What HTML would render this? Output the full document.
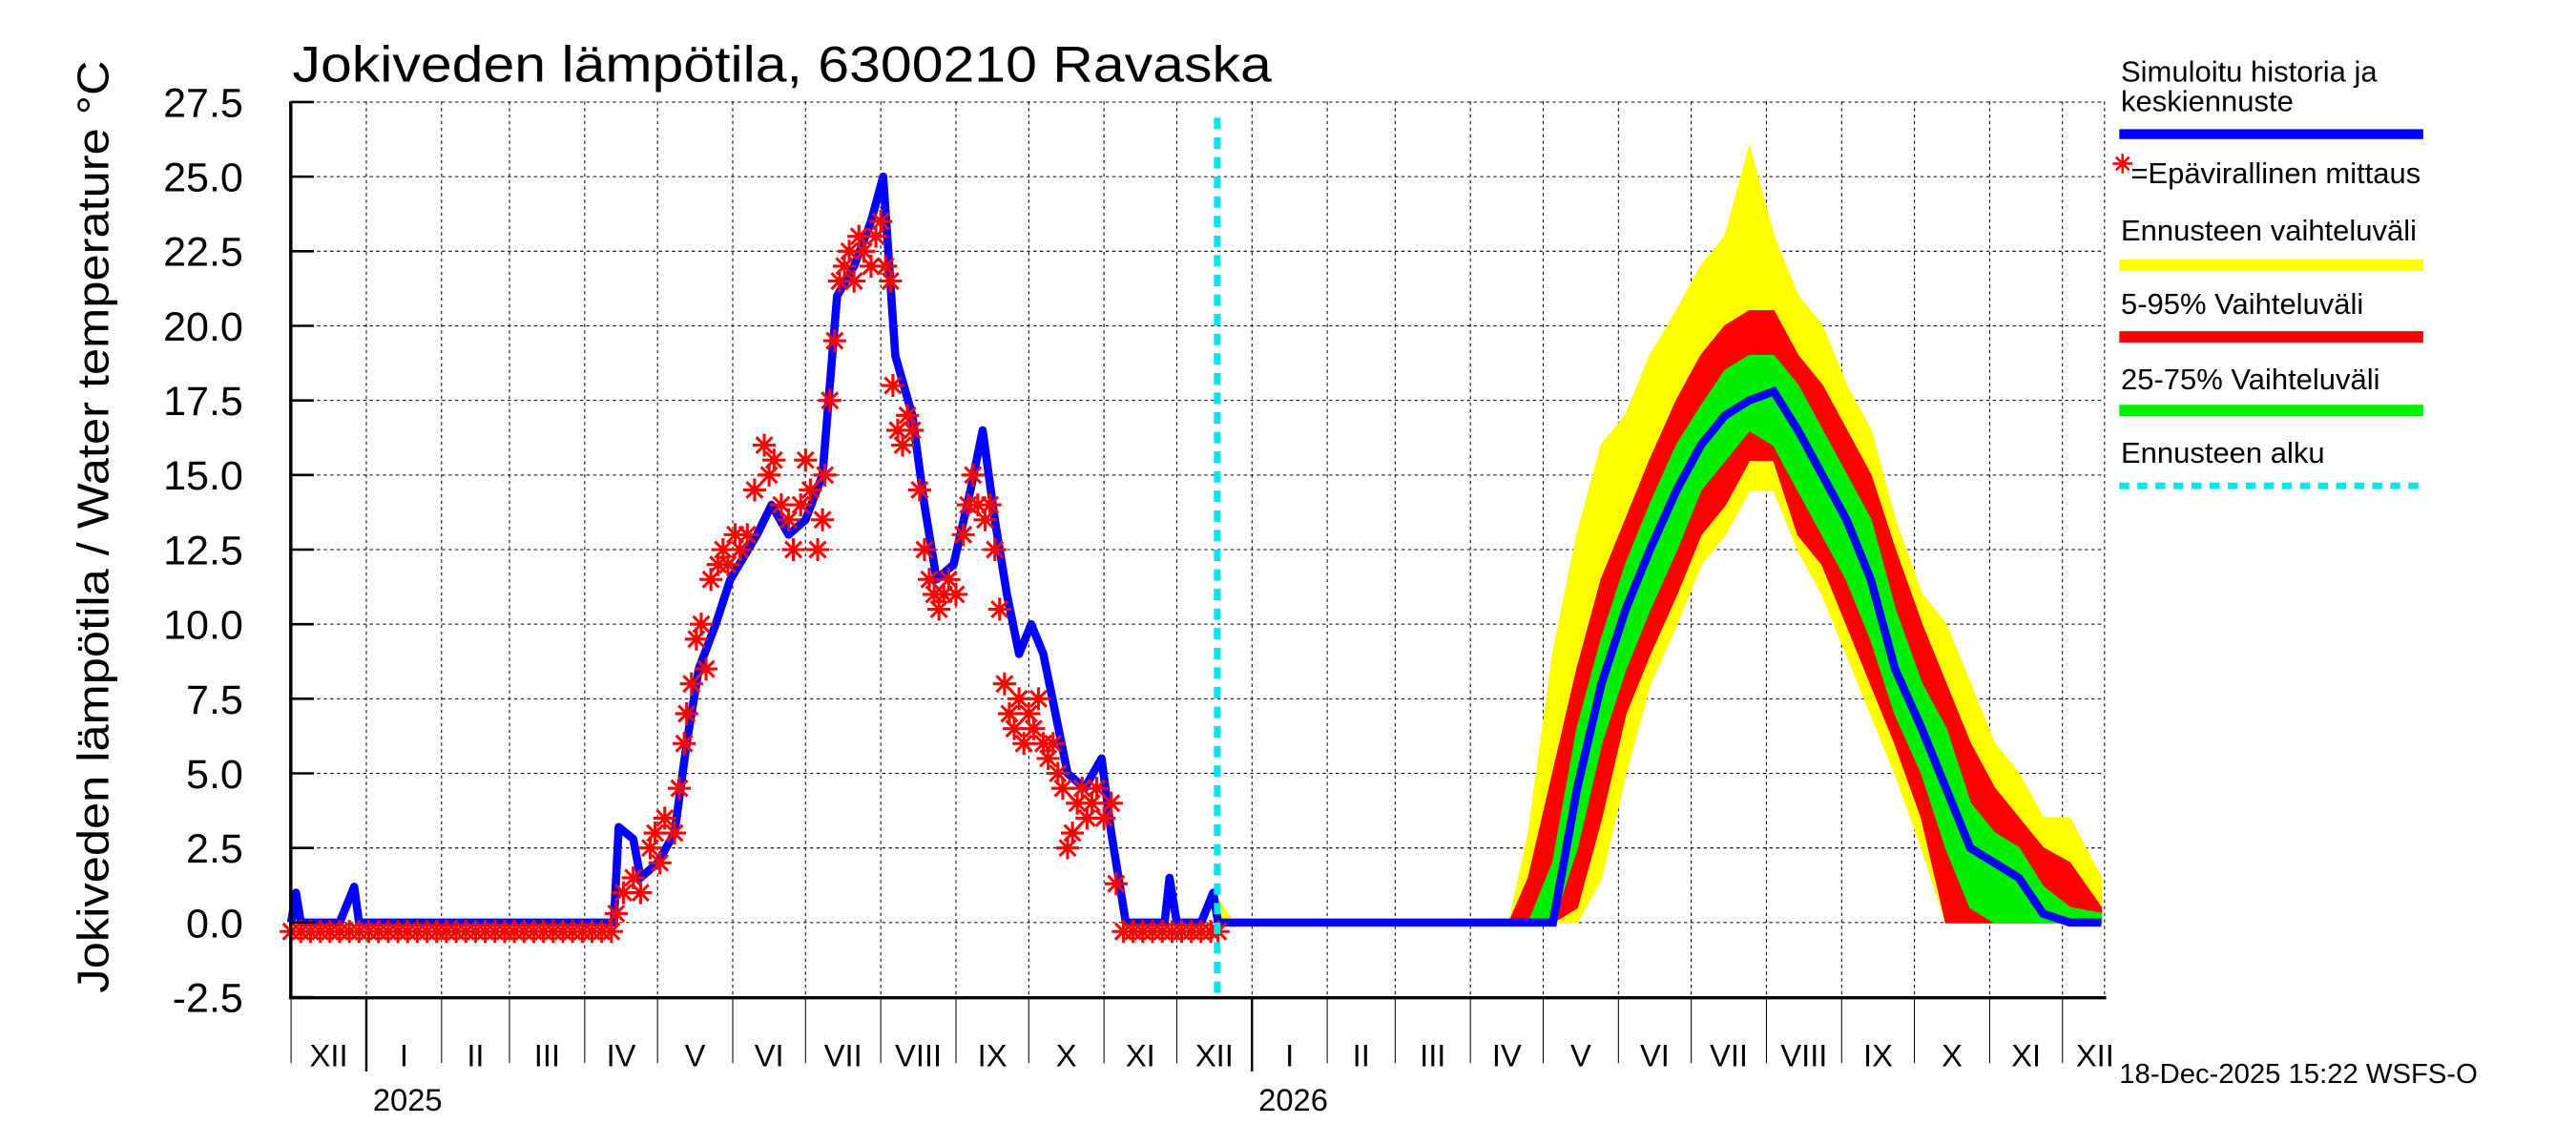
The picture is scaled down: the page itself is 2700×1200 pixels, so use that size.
<!DOCTYPE html>
<html><head><meta charset="utf-8"><style>
html,body{margin:0;padding:0;background:#fff;}
svg{display:block;font-family:"Liberation Sans",Arial,sans-serif;}
</style></head><body>
<svg id="chart" width="2700" height="1200" viewBox="0 0 1568 700" preserveAspectRatio="none" xmlns="http://www.w3.org/2000/svg">
<rect x="0" y="0" width="1568" height="700" fill="#fff"/>
<g id="grid"></g>
<g id="bands"></g>
<g id="series"></g>
<g id="axes"></g>
<text x="178" y="50" font-size="31" textLength="596" lengthAdjust="spacingAndGlyphs">Jokiveden lämpötila, 6300210 Ravaska</text>
<text transform="translate(66,322) rotate(-90)" text-anchor="middle" font-size="27" textLength="570" lengthAdjust="spacingAndGlyphs">Jokiveden lämpötila / Water temperature    °C</text>
<text x="1290" y="662" font-size="17">18-Dec-2025 15:22 WSFS-O</text>
<g font-size="18">
<text x="1291" y="50">Simuloitu historia ja</text>
<text x="1291" y="68">keskiennuste</text>
<line x1="1290" y1="82" x2="1475" y2="82" stroke="#0000ff" stroke-width="6"/>
<g stroke="#ff0000" stroke-width="1.5"><line x1="1286" y1="100" x2="1298" y2="100"/><line x1="1292" y1="94" x2="1292" y2="106"/><line x1="1288" y1="96" x2="1296" y2="104"/><line x1="1296" y1="96" x2="1288" y2="104"/></g>
<text x="1297" y="112">=Epävirallinen mittaus</text>
<text x="1291" y="147">Ennusteen vaihteluväli</text>
<line x1="1290" y1="162" x2="1475" y2="162" stroke="#ffff00" stroke-width="7"/>
<text x="1291" y="192">5-95% Vaihteluväli</text>
<line x1="1290" y1="206" x2="1475" y2="206" stroke="#ff0000" stroke-width="7"/>
<text x="1291" y="238">25-75% Vaihteluväli</text>
<line x1="1290" y1="251" x2="1475" y2="251" stroke="#00ee00" stroke-width="7"/>
<text x="1291" y="283">Ennusteen alku</text>
<line x1="1290" y1="297" x2="1475" y2="297" stroke="#00e5e5" stroke-width="4" stroke-dasharray="6,5"/>
</g>
</svg>
<script>
// ---- data (days since 2024-12-01) ----
const yTicks = [-2.5,0,2.5,5,7.5,10,12.5,15,17.5,20,22.5,25,27.5];
const yTickLabels = ["-2.5","0.0","2.5","5.0","7.5","10.0","12.5","15.0","17.5","20.0","22.5","25.0","27.5"];
const monthLabels = ["XII","I","II","III","IV","V","VI","VII","VIII","IX","X","XI","XII","I","II","III","IV","V","VI","VII","VIII","IX","X","XI","XII"];
const yearLabels = ["2025","2026"];
const forecastStartDay = 382;
const histDays = [0,2,4,20,26,28,133,135,141,144,151,158,163,168,175,181,192,198,205,212,219,222,225,232,239,244,249,256,261,266,273,280,285,290,295,300,305,310,315,320,327,334,338,341,344,354,360,362,365,375,380,382];
const histVals = [0,1,0,0,1.2,0,0,3.2,2.8,1.5,2,3,6,8.5,10,11.5,13,14,13,13.5,15,18,21,22,23.5,25,19,17,14,11.5,12,14.5,16.5,13.5,11,9,10,9,7,5,4.5,5.5,3,1.5,0,0,0,1.5,0,0,1,0];
const obsDays = [0,4,8,12,16,20,24,28,32,36,40,44,48,52,56,60,64,68,72,76,80,84,88,92,96,100,104,108,112,116,120,124,128,132,
134,137,141,144,148,150,152,154,158,160,162,163,165,167,169,171,173,176,178,180,183,185,188,191,195,197,199,202,205,207,210,212,214,217,219,220,222,224,226,228,230,232,234,236,239,241,243,245,247,248,250,252,254,256,259,261,263,265,267,269,271,274,277,279,281,283,286,288,290,292,294,296,298,300,302,304,306,308,310,312,314,316,318,320,322,324,326,328,330,332,335,338,340,343,347,351,355,359,363,367,371,375,379,382];
const obsVals = [-0.3,-0.3,-0.3,-0.3,-0.3,-0.3,-0.3,-0.3,-0.3,-0.3,-0.3,-0.3,-0.3,-0.3,-0.3,-0.3,-0.3,-0.3,-0.3,-0.3,-0.3,-0.3,-0.3,-0.3,-0.3,-0.3,-0.3,-0.3,-0.3,-0.3,-0.3,-0.3,-0.3,-0.3,
0.3,1,1.5,1,2.5,3,2,3.5,3,4.5,6,7,8,9.5,10,8.5,11.5,12,12.5,12,13,12.5,13,14.5,16,15,15.5,14,13.5,12.5,14,15.5,14.5,12.5,13.5,15,17.5,19.5,21.5,22,22.5,21.5,23,22.5,22,23,23.5,22,21.5,18,16.5,16,17,16.5,14.5,12.5,11.5,11,10.5,11,11.5,11,13,14,15,14,13.5,14,12.5,10.5,8,7,6.5,7.5,6,7,6.5,7.5,6,5.5,6,5,4.5,2.5,3,4,4.5,3.5,4,4.5,3.5,4,1.3,-0.3,-0.3,-0.3,-0.3,-0.3,-0.3,-0.3,-0.3,-0.3,-0.3,-0.3,-0.3];
const fcDays = [382,388,502,510,520,530,540,550,560,571,581,591,601,611,621,631,641,651,661,672,682,692,702,712,722,733,746];
const fcMedian = [0,0,0,0,0,4.5,8,10.5,12.5,14.5,16,17,17.5,17.8,16.5,15,13.5,11.5,8.5,6.5,4.5,2.5,2,1.5,0.3,0,0];
const fcP25 = [0,0,0,0,0,2.5,6,8.5,10.5,12.5,14.5,15.5,16.5,16,14.5,13,11.5,9.5,7,5,2.5,0.5,0,0,0,0,0];
const fcP75 = [0,0,0,0,2,6.5,9.5,12,14,16,17.3,18.5,19,19,18,16.5,15,13.5,10.5,8,6.5,4,3,2.5,1.2,0.5,0.3];
const fcP5 = [0,0,0,0,0,0.5,3.5,7,9,11,13,14,15.5,15.5,13,12,10,8,6,3.5,0,0,0,0,0,0,0];
const fcP95 = [0,0,0,1.5,5,8.5,11.5,13.5,15.5,17.5,19,20,20.5,20.5,19,18,16.5,15,12.5,10,8,6,4.5,3.5,2.5,2,0.5];
const fcMin = [0,0,0,0,0,0,1.5,5,8,10,12,13,14.5,14.5,12.5,11,9,7,5,2.5,0,0,0,0,0,0,0];
const fcMax = [0.8,0,0,3,9,13,16,17,19,20.5,22,23,26,23,21,20,18,16.5,13.5,11,10,8,6,5,3.5,3.5,1.5];

// ---- scales ----
const X0=177.2, PXD=1.477, PL=177, PR=1281, PT=62, PB=610;
const sx = d => X0 + d*PXD;
const sy = v => 564 - v*(456/25);
const NS="http://www.w3.org/2000/svg";
function mk(tag, attrs, parent){const e=document.createElementNS(NS,tag);for(const k in attrs)e.setAttribute(k,attrs[k]);parent.appendChild(e);return e;}
const grid=document.getElementById('grid'), axes=document.getElementById('axes'), bands=document.getElementById('bands'), series=document.getElementById('series');

const base=Date.UTC(2024,11,1);
const monthStarts=[];
for(let i=0;i<26;i++){monthStarts.push((Date.UTC(2024,11+i,1)-base)/86400000);}
yTicks.forEach((v,i)=>{
  const y=sy(v);
  if(i>0){const g=mk('line',{x1:PL,y1:y,x2:PR,y2:y,stroke:'#000','stroke-width':0.6,'stroke-dasharray':'2,2'},grid);
  
  }
  const t=mk('line',{x1:PL,y1:y,x2:PL+14,y2:y,stroke:'#000','stroke-width':1.5},axes);
  
  
  const l=mk('text',{x:148,y:y+9,'text-anchor':'end','font-size':25},axes);
  l.textContent=yTickLabels[i];
  
  
});
monthStarts.forEach((d,i)=>{
  const x=sx(d);
  if(x>PR+1)return;
  if(i>0){const g=mk('line',{x1:x,y1:PT,x2:x,y2:PB,stroke:'#000','stroke-width':0.6,'stroke-dasharray':'2,2'},grid);
  
  }
  const isYear=(i===1||i===13);
  const t=mk('line',{x1:x,y1:PB,x2:x,y2:isYear?655:650,stroke:'#000','stroke-width':isYear?1.4:0.6},axes);
  
  
  if(i<monthLabels.length){
    const nx=Math.min(sx(monthStarts[i+1]),PR+14);
    const l=mk('text',{x:(x+nx)/2,y:652,'text-anchor':'middle','font-size':19},axes);
    l.textContent=monthLabels[i];
    
    
  }
});
[1,13].forEach((mi,k)=>{
  const l=mk('text',{x:sx(monthStarts[mi])+4,y:679,'font-size':19},axes);
  l.textContent=yearLabels[k];
  
  
});
const frame=mk('path',{d:`M${PL},${PT} V${PB} H${PR+1}`,stroke:'#000','stroke-width':2,fill:'none'},axes);


const rframe=mk('line',{x1:PR,y1:PT,x2:PR,y2:PB,stroke:'#000','stroke-width':0.6,'stroke-dasharray':'2,2'},grid);



function band(lo,hi,color,name){
  let d='M';
  fcDays.forEach((dd,i)=>{d+=sx(dd)+','+sy(hi[i])+' L';});
  for(let i=fcDays.length-1;i>=0;i--){d+=sx(fcDays[i])+','+sy(lo[i])+(i>0?' L':' Z');}
  const p=mk('path',{d:d,fill:color,stroke:color,'stroke-width':1},bands);
  
  
}
band(fcMin,fcMax,'#ffff00','band-min-max');
band(fcP5,fcP95,'#ff0000','band-5-95');
band(fcP25,fcP75,'#00ee00','band-25-75');
const med=mk('polyline',{points:fcDays.map((d,i)=>sx(d)+','+sy(fcMedian[i])).join(' '),fill:'none',stroke:'#0000ff','stroke-width':5},series);


const hist=mk('polyline',{points:histDays.map((d,i)=>sx(d)+','+sy(histVals[i])).join(' '),fill:'none',stroke:'#0000ff','stroke-width':5,'stroke-linejoin':'round'},series);


obsDays.forEach((d,i)=>{
  const x=sx(d),y=sy(obsVals[i]),r=7;
  const g=mk('path',{d:`M${x-r},${y} H${x+r} M${x},${y-r} V${y+r} M${x-r*0.7},${y-r*0.7} L${x+r*0.7},${y+r*0.7} M${x+r*0.7},${y-r*0.7} L${x-r*0.7},${y+r*0.7}`,stroke:'#ff0000','stroke-width':1.8,fill:'none'},series);
  
  
});
const fs=mk('line',{x1:sx(forecastStartDay)-0.5,y1:72,x2:sx(forecastStartDay)-0.5,y2:PB,stroke:'#00e5e5','stroke-width':4,'stroke-dasharray':'7,5'},series);


</script>
</body></html>
